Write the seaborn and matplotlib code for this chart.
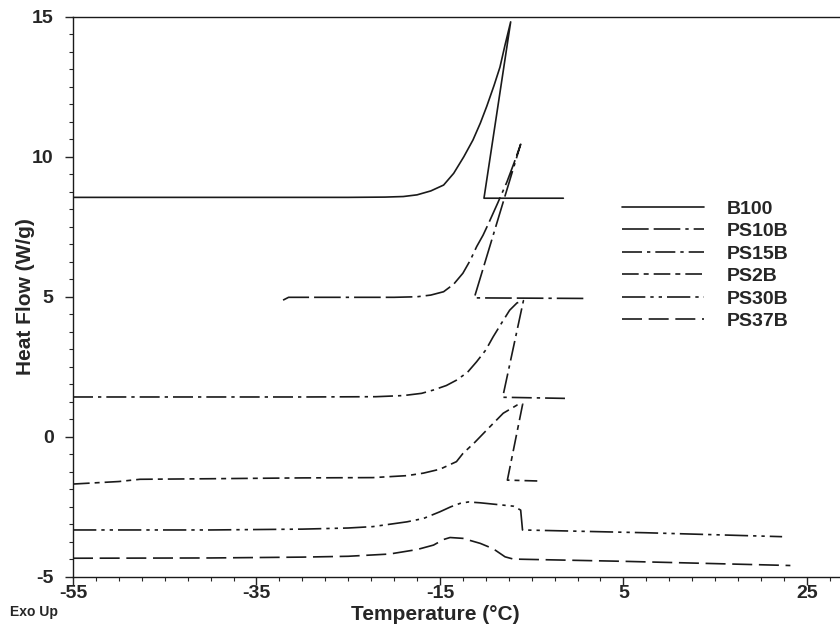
#!/usr/bin/env python
# -*- coding: utf-8 -*-

"""
DSC cooling curves (Heat Flow vs Temperature), Exo Up
"""

import matplotlib
matplotlib.use("Agg")
import matplotlib.pyplot as plt
from matplotlib.ticker import FixedLocator, MultipleLocator, AutoMinorLocator
import seaborn as sns

# サンプル名（凡例の順）
labels = ['B100', 'PS10B', 'PS15B', 'PS2B', 'PS30B', 'PS37B']

# 目盛
x_ticks = [-55, -35, -15, 5, 25]
y_ticks = [-5, 0, 5, 10, 15]

# 各曲線の読み取り値（温度 °C, 熱流 W/g）
b100_t = [-55, -25, -21, -19, -17.5, -16, -14.6, -13.5, -12.4, -11.4, -10.6, -9.9,
          -9.1, -8.46, -7.9, -7.29, -10.2, -1.55]
b100_q = [8.55, 8.55, 8.56, 8.58, 8.64, 8.78, 8.99, 9.41, 10.0, 10.6, 11.2, 11.8,
          12.55, 13.2, 14.0, 14.82, 8.52, 8.52]

ps10b_t = [-32.1, -31.5, -20, -17.5, -16, -14.6, -13.5, -12.5, -11.7, -11.0, -10.3,
           -9.7, -8.7, -7.7, -6.9, -6.2, -11.26, 0.63]
ps10b_q = [4.88, 4.98, 4.98, 5.0, 5.06, 5.18, 5.45, 5.84, 6.3, 6.79, 7.2,
           7.62, 8.35, 9.1, 9.8, 10.45, 4.96, 4.94]

ps15b_t = [-55, -30, -22, -19, -17, -15.7, -14.3, -13.2, -12, -11, -10, -9.2,
           -8.3, -7.4, -6.6, -5.9, -8.16, -1.37]
ps15b_q = [1.42, 1.42, 1.43, 1.47, 1.55, 1.67, 1.83, 2.02, 2.3, 2.68, 3.1, 3.57,
           4.05, 4.52, 4.78, 4.86, 1.41, 1.37]

ps2b_t = [-55, -50, -47.7, -40, -30, -22.3, -18.6, -16.8, -15, -13.2, -12.5, -11.2,
          -9.9, -8.1, -6.6, -5.98, -7.65, -4.39]
ps2b_q = [-1.69, -1.6, -1.52, -1.5, -1.47, -1.46, -1.39, -1.3, -1.16, -0.89, -0.6, -0.2,
          0.24, 0.84, 1.13, 1.17, -1.55, -1.58]

ps30b_t = [-55, -40, -30, -25, -22.3, -18.6, -16.8, -15, -13.8, -12.8, -11.9, -10.6,
           -8.5, -7.0, -6.2, -6.0, 7.5, 22.3]
ps30b_q = [-3.33, -3.33, -3.3, -3.26, -3.21, -3.04, -2.92, -2.68, -2.5, -2.38, -2.33, -2.36,
           -2.43, -2.48, -2.62, -3.33, -3.43, -3.57]

ps37b_t = [-55, -40, -30, -25, -20.5, -17.5, -15.7, -14.6, -13.9, -12.5, -10.6, -9.2,
           -7.9, -7.0, 5, 23.2]
ps37b_q = [-4.34, -4.33, -4.3, -4.27, -4.19, -4.03, -3.87, -3.67, -3.6, -3.63, -3.81, -4.0,
           -4.29, -4.37, -4.45, -4.6]

curves = [(b100_t, b100_q), (ps10b_t, ps10b_q), (ps15b_t, ps15b_q),
          (ps2b_t, ps2b_q), (ps30b_t, ps30b_q), (ps37b_t, ps37b_q)]

# 線種
dashes = ['-', (0, (16, 3, 16, 3, 2, 3)), (0, (12, 3, 2, 3)),
          (0, (10, 3, 3, 3)), (0, (14, 3, 2, 3, 2, 3)), (0, (12, 4))]

sns.set_style("ticks")
plt.rcParams['font.family'] = ['Liberation Sans', 'DejaVu Sans']
plt.rcParams['font.weight'] = 'bold'
plt.rcParams['axes.unicode_minus'] = False

fig = plt.figure(figsize=(8.4, 6.27), dpi=100)
ax = fig.add_axes([0.0869, 0.0802, 0.913, 0.893])

for (t, q), lab, ls in zip(curves, labels, dashes):
    sns.lineplot(x=t, y=q, sort=False, estimator=None, ax=ax, color='#1a1a1a',
                 linewidth=1.2, linestyle=ls, label=lab)

# 軸範囲と目盛
ax.set_xlim(-55, 28.6)
ax.set_ylim(-5, 15)
ax.xaxis.set_major_locator(FixedLocator(x_ticks))
ax.xaxis.set_minor_locator(MultipleLocator(2.5))
ax.yaxis.set_major_locator(FixedLocator(y_ticks))
ax.yaxis.set_minor_locator(AutoMinorLocator(8))
ax.tick_params(which='major', direction='out', length=6, width=1, labelsize=14)
ax.tick_params(axis='x', which='major', pad=0)
ax.tick_params(axis='y', which='major', pad=8)
ax.tick_params(which='minor', direction='out', length=3, width=0.8)
for lbl in ax.get_xticklabels() + ax.get_yticklabels():
    lbl.set_fontweight('bold')

ax.spines['right'].set_visible(False)
for s in ['top', 'left', 'bottom']:
    ax.spines[s].set_linewidth(1.0)
    ax.spines[s].set_color('#1a1a1a')

# ラベル
ax.set_xlabel('Temperature (°C)', fontsize=15, fontweight='bold')
ax.set_ylabel('Heat Flow (W/g)', fontsize=15, fontweight='bold')
ax.xaxis.set_label_coords(0.473, -0.05)
ax.yaxis.set_label_coords(-0.05, 0.5)

fig.text(10 / 840, 1 - 612 / 627, 'Exo Up', fontsize=10, fontweight='bold',
         va='center', ha='left')

# 凡例
leg = ax.legend(loc='upper left', bbox_to_anchor=(0.693, 0.704), frameon=False,
                handlelength=4.2, handletextpad=1.2, labelspacing=0.25,
                prop={'weight': 'bold', 'size': 14})

plt.savefig('out.png', dpi=100)
plt.close()
